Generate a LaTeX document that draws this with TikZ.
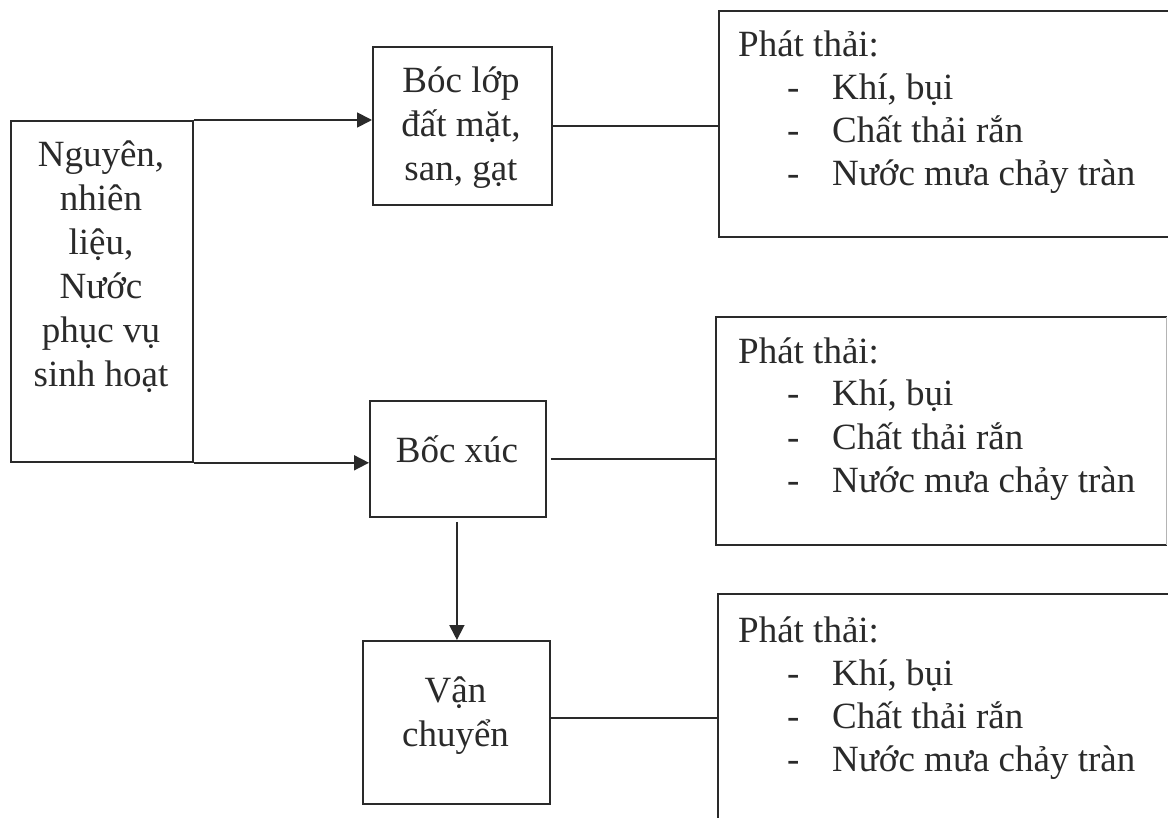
\documentclass[tikz,border=0pt]{standalone}
\usepackage{fontspec}
\setmainfont{Liberation Serif}
\usetikzlibrary{arrows.meta}
\definecolor{ink}{HTML}{2A2A2A}
\begin{document}
\begin{tikzpicture}[x=1pt,y=-1pt,
  ln/.style={draw=ink, line width=1.8pt},
  box/.style={ln, rectangle, inner sep=0pt, anchor=north west},
  arr/.style={ln, -{Triangle[length=15pt,width=15pt]}},
  txt/.style={inner sep=0pt, text=ink, font=\fontsize{37}{43}\selectfont, anchor=base},
  ltxt/.style={txt, anchor=base west},
]
\useasboundingbox (0,0) rectangle (1168,818);
\fill[white] (0,0) rectangle (1168,818);
\clip (0,0) rectangle (1168,818);

% boxes
\node[box, minimum width=182pt, minimum height=341pt] (src) at (10,120) {};
\node[box, minimum width=179pt, minimum height=158pt] (b1) at (372,46) {};
\node[box, minimum width=176pt, minimum height=116pt] (b2) at (369,400) {};
\node[box, minimum width=187pt, minimum height=163pt] (b3) at (362,640) {};
\node[box, minimum width=480pt, minimum height=226pt] (r1) at (718,10) {};
\node[box, draw=none, minimum width=449pt, minimum height=226pt] (r2) at (716,317) {};
\draw[ln] (r2.north east) -- (r2.north west) -- (r2.south west) -- (r2.south east);
\draw[draw=ink!35, line width=1pt] (r2.north east) -- (r2.south east);
\node[box, minimum width=480pt, minimum height=225pt] (r3) at (717,593) {};

% texts in process boxes
\foreach \t [count=\i from 0] in {{Nguyên,},{nhiên},{liệu,},{Nước},{phục vụ},{sinh hoạt}}
  \node[txt] (s\i) at (101,167+44*\i) {\t};
\foreach \t [count=\i from 0] in {{Bóc lớp},{đất mặt,},{san, gạt}}
  \node[txt] (t\i) at (461,93+44*\i) {\t};
\node[txt] (u0) at (457,462) {Bốc xúc};
\foreach \t [count=\i from 0] in {{Vận},{chuyển}}
  \node[txt] (v\i) at (455.5,702+44*\i) {\t};

% emission lists
\foreach \y/\n in {57/1,363/2,642/3}{
  \node[ltxt] (p\n) at (738,\y) {Phát thải:};
  \foreach \t [count=\k] in {{Khí, bụi},{Chất thải rắn},{Nước mưa chảy tràn}}{
    \node[ltxt] (d\n\k) at (787,\y+43*\k) {-};
    \node[ltxt] (e\n\k) at (832,\y+43*\k) {\t};
  }
}

% connectors
\draw[arr] (src.north east) -- (src.north east -| b1.west);
\draw[arr] (src.south east) -- (src.south east -| b2.west);
\draw[ln] (b1.east) -- (b1.east -| r1.west);
\draw[ln, shorten <=4pt] (b2.east) -- (b2.east -| r2.west);
\draw[ln] ([yshift=4.5pt]b3.east) -- ([yshift=4.5pt]b3.east -| r3.west);
\draw[arr, shorten <=4pt] ([xshift=-1pt]b2.south) -- ([xshift=-1pt]b2.south |- b3.north);
\end{tikzpicture}
\end{document}
